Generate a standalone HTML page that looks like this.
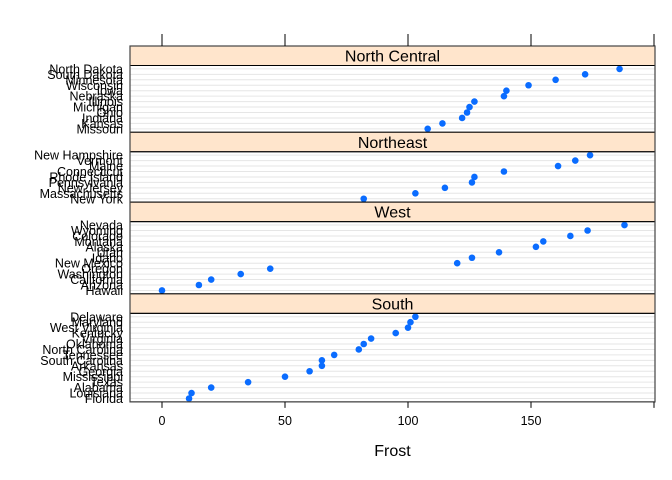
<!DOCTYPE html>
<html><head><meta charset="utf-8"><style>
body{margin:0;background:#fff;}
svg{display:block;font-family:"Liberation Sans",Arial,sans-serif;}
</style></head><body>
<svg id="chart" width="672" height="480"></svg>
<script>
const panelNames = ["North Central","Northeast","West","South"];
const ncStates = ["North Dakota","South Dakota","Minnesota","Wisconsin","Iowa","Nebraska","Illinois","Michigan","Ohio","Indiana","Kansas","Missouri"];
const ncFrost = [186,172,160,149,140,139,127,125,124,122,114,108];
const neStates = ["New Hampshire","Vermont","Maine","Connecticut","Rhode Island","Pennsylvania","New Jersey","Massachusetts","New York"];
const neFrost = [174,168,161,139,127,126,115,103,82];
const wStates = ["Nevada","Wyoming","Colorado","Montana","Alaska","Utah","Idaho","New Mexico","Oregon","Washington","California","Arizona","Hawaii"];
const wFrost = [188,173,166,155,152,137,126,120,44,32,20,15,0];
const sStates = ["Delaware","Maryland","West Virginia","Kentucky","Virginia","Oklahoma","North Carolina","Tennessee","South Carolina","Arkansas","Georgia","Mississippi","Texas","Alabama","Louisiana","Florida"];
const sFrost = [103,101,100,95,85,82,80,70,65,65,60,50,35,20,12,11];
const xTicks = [0,50,100,150,200];
const xTickLabels = ["0","50","100","150",""];

const svg = document.getElementById('chart');
const NS = "http://www.w3.org/2000/svg";
function mk(tag, attrs, parent){const e=document.createElementNS(NS,tag);for(const k in attrs)e.setAttribute(k,attrs[k]);(parent||svg).appendChild(e);return e;}
const X0=130, X1=655;
function xs(v){return 162+v*2.46;}
const ROW=5.45, PAD=3.4, STRIP=19.5;
const panels=[[ncStates,ncFrost],[neStates,neFrost],[wStates,wFrost],[sStates,sFrost]];
let y=46;
panels.forEach((p,pi)=>{
  const names=p[0], vals=p[1];
  const st=mk('rect',{x:X0,y:y,width:X1-X0,height:STRIP,fill:'#ffe5cc',stroke:'#000','stroke-width':1});
  
  
  const tt=mk('text',{x:(X0+X1)/2,y:y+15.5,'text-anchor':'middle','font-size':16,fill:'#000'});
  tt.textContent=panelNames[pi];
  
  
  y+=STRIP;
  const h=(names.length-1)*ROW+2*PAD;
  names.forEach((n,i)=>{
    const yy=y+PAD+i*ROW;
    mk('line',{x1:X0,x2:X1,y1:yy,y2:yy,stroke:'#e6e6e6','stroke-width':1});
    const lb=mk('text',{x:123,y:yy+4.5,'text-anchor':'end','font-size':12.5,fill:'#000'});
    lb.textContent=n;
    
    
    const c=mk('circle',{cx:xs(vals[i]),cy:yy,r:3.3,fill:'#0a6cff'});
    
    
  });
  const pr=mk('rect',{x:X0,y:y,width:X1-X0,height:h,fill:'none',stroke:'#000','stroke-width':1});
  
  
  y+=h;
});
mk('rect',{x:X0,y:46,width:X1-X0,height:y-46,fill:'none',stroke:'#444','stroke-width':1.2});
xTicks.forEach((t,i)=>{
  const x=xs(t);
  mk('line',{x1:x,x2:x,y1:34,y2:46,stroke:'#000'});
  mk('line',{x1:x,x2:x,y1:y,y2:y+6,stroke:'#000'});
  const tl=mk('text',{x:x,y:y+23,'text-anchor':'middle','font-size':12.5,fill:'#000'});
  tl.textContent=xTickLabels[i];
  
  
});
const xt=mk('text',{x:(X0+X1)/2,y:456,'text-anchor':'middle','font-size':16,fill:'#000'});
xt.textContent='Frost';


</script>
</body></html>
